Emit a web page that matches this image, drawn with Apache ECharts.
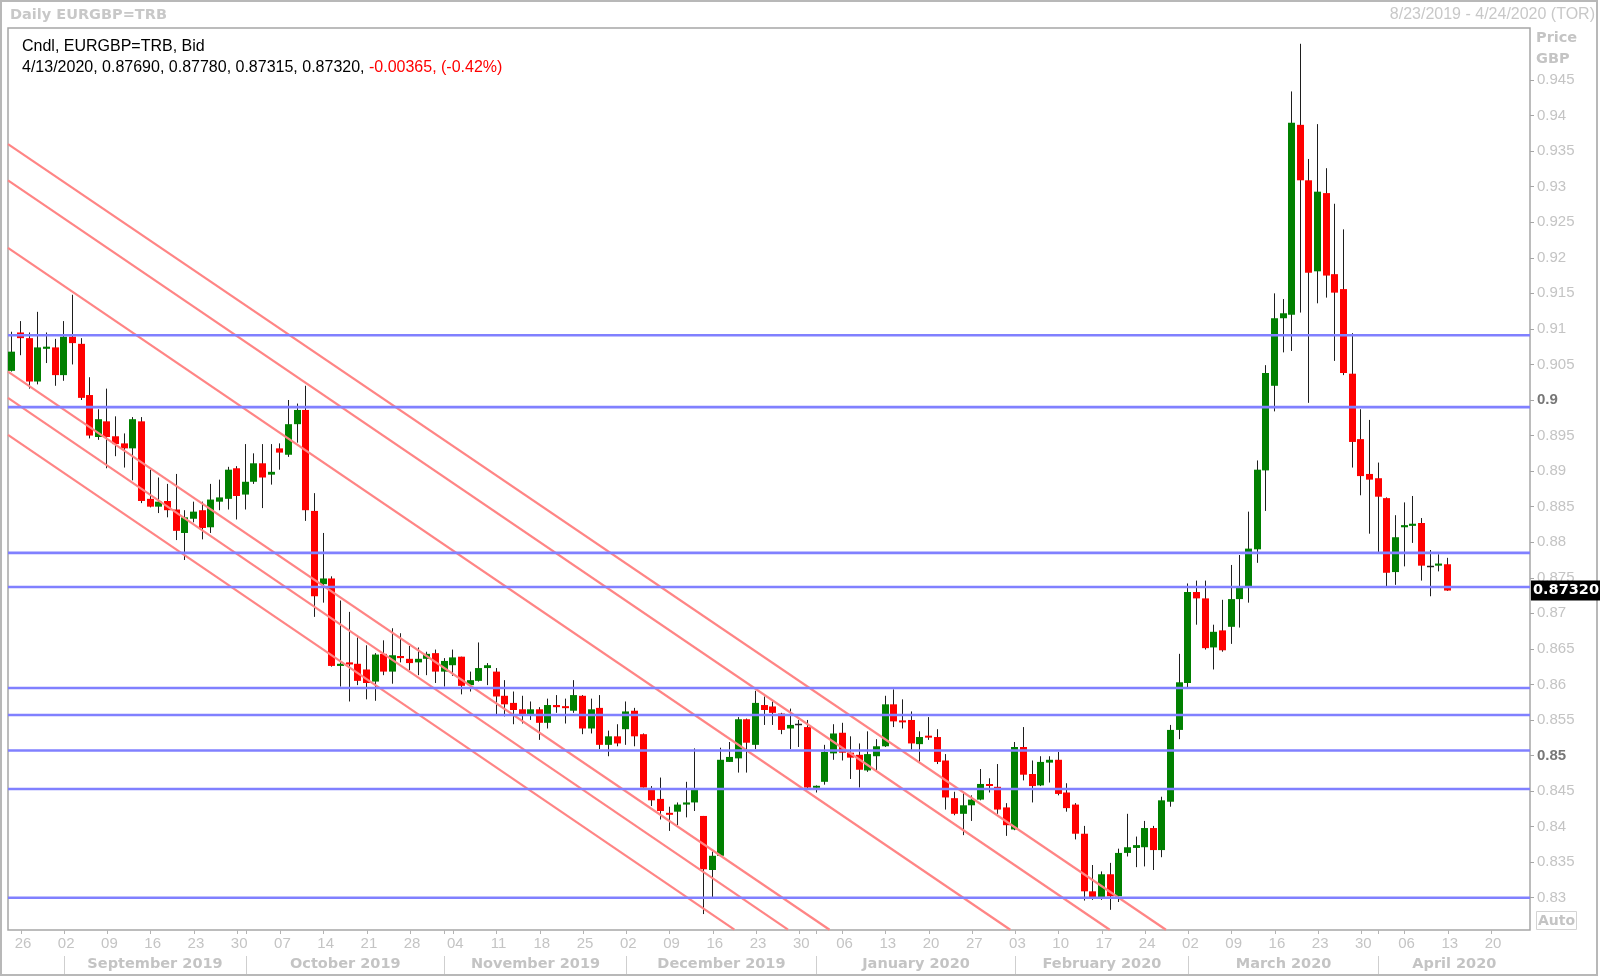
<!DOCTYPE html>
<html><head><meta charset="utf-8">
<script src="https://cdn.jsdelivr.net/npm/echarts@6/dist/echarts.min.js"></script>
<style>html,body{margin:0;padding:0;background:#fff}#c{width:1600px;height:978px}</style>
</head><body><div id="c"></div>
<script>
// ---------- DATA ----------
const START_DATE = '2019-08-23';
const END_DATE = '2020-04-24';
const MONTHS = ['January','February','March','April','May','June','July','August','September','October','November','December'];

const open = [
0.9041,0.9095,0.9087,0.9026,0.9072,0.9074,0.9035,0.9089,0.9079,0.9007,
0.8948,0.8970,0.8949,0.8939,0.8932,0.8970,0.8861,0.8850,0.8858,0.8846,
0.8813,0.8833,0.8845,0.8821,0.8857,0.8861,0.8904,0.8867,0.8885,0.8911,
0.8895,0.8932,0.8923,0.8966,0.8986,0.8844,0.8741,0.8749,0.8626,0.8631,
0.8629,0.8621,0.8604,0.8643,0.8618,0.8640,0.8636,0.8631,0.8636,0.8644,
0.8618,0.8627,0.8639,0.8599,0.8605,0.8623,0.8618,0.8584,0.8574,0.8565,
0.8558,0.8565,0.8546,0.8571,0.8569,0.8563,0.8584,0.8538,0.8567,0.8515,
0.8527,0.8537,0.8563,0.8530,0.8452,0.8439,0.8419,0.8421,0.8431,0.8434,
0.8415,0.8339,0.8359,0.8491,0.8496,0.8551,0.8515,0.8571,0.8569,0.8559,
0.8538,0.8544,0.8540,0.8455,0.8463,0.8503,0.8532,0.8504,0.8501,0.8479,
0.8499,0.8513,0.8572,0.8549,0.8550,0.8516,0.8527,0.8526,0.8493,0.8440,
0.8418,0.8430,0.8438,0.8459,0.8456,0.8427,0.8396,0.8512,0.8474,0.8458,
0.8490,0.8494,0.8448,0.8431,0.8390,0.8309,0.8301,0.8333,0.8302,0.8363,
0.8370,0.8371,0.8398,0.8367,0.8435,0.8536,0.8602,0.8730,0.8721,0.8652,
0.8676,0.8681,0.8720,0.8738,0.8790,0.8901,0.9020,0.9115,0.9120,0.9387,
0.9309,0.9181,0.9291,0.9177,0.9156,0.9037,0.8945,0.8896,0.8890,0.8862,
0.8758,0.8821,0.8823,0.8827,0.8767,0.8767,0.8769
];
const close = [
0.9068,0.9087,0.9026,0.9074,0.9075,0.9035,0.9089,0.9080,0.9003,0.8950,
0.8973,0.8948,0.8938,0.8932,0.8973,0.8858,0.8850,0.8857,0.8845,0.8816,
0.8835,0.8843,0.8820,0.8860,0.8863,0.8902,0.8865,0.8885,0.8911,0.8891,
0.8899,0.8926,0.8966,0.8986,0.8845,0.8724,0.8749,0.8626,0.8629,0.8628,
0.8605,0.8602,0.8642,0.8618,0.8641,0.8637,0.8630,0.8636,0.8643,0.8618,
0.8633,0.8638,0.8598,0.8606,0.8623,0.8627,0.8583,0.8572,0.8564,0.8558,
0.8565,0.8546,0.8571,0.8568,0.8567,0.8585,0.8538,0.8565,0.8515,0.8527,
0.8517,0.8562,0.8527,0.8455,0.8437,0.8422,0.8417,0.8431,0.8434,0.8452,
0.8340,0.8359,0.8494,0.8498,0.8551,0.8518,0.8574,0.8564,0.8560,0.8536,
0.8543,0.8544,0.8455,0.8457,0.8505,0.8531,0.8504,0.8497,0.8480,0.8502,
0.8513,0.8572,0.8548,0.8547,0.8517,0.8526,0.8526,0.8491,0.8441,0.8418,
0.8430,0.8438,0.8460,0.8458,0.8424,0.8402,0.8512,0.8473,0.8457,0.8491,
0.8494,0.8446,0.8426,0.8390,0.8309,0.8301,0.8333,0.8302,0.8363,0.8371,
0.8374,0.8398,0.8367,0.8437,0.8536,0.8603,0.8730,0.8721,0.8651,0.8674,
0.8648,0.8720,0.8737,0.8791,0.8902,0.9038,0.9115,0.9122,0.9390,0.9309,
0.9179,0.9293,0.9175,0.9151,0.9038,0.8941,0.8893,0.8888,0.8864,0.8757,
0.8807,0.8824,0.8826,0.8767,0.8767,0.8770,0.8732
];
const low = [
0.9040,0.9063,0.9016,0.9022,0.9052,0.9020,0.9027,0.9050,0.9000,0.8946,
0.8944,0.8904,0.8921,0.8905,0.8887,0.8855,0.8849,0.8841,0.8835,0.8803,
0.8775,0.8828,0.8804,0.8813,0.8845,0.8846,0.8832,0.8846,0.8882,0.8848,
0.8881,0.8902,0.8920,0.8940,0.8830,0.8695,0.8715,0.8625,0.8597,0.8576,
0.8599,0.8579,0.8577,0.8613,0.8601,0.8631,0.8620,0.8613,0.8613,0.8602,
0.8597,0.8612,0.8586,0.8590,0.8604,0.8599,0.8558,0.8555,0.8544,0.8545,
0.8550,0.8522,0.8538,0.8560,0.8545,0.8560,0.8530,0.8531,0.8509,0.8499,
0.8513,0.8515,0.8513,0.8455,0.8429,0.8410,0.8394,0.8402,0.8413,0.8422,
0.8277,0.8301,0.8358,0.8491,0.8476,0.8476,0.8509,0.8543,0.8543,0.8530,
0.8509,0.8512,0.8454,0.8448,0.8459,0.8494,0.8493,0.8467,0.8455,0.8477,
0.8479,0.8512,0.8540,0.8538,0.8508,0.8491,0.8522,0.8488,0.8424,0.8416,
0.8388,0.8408,0.8437,0.8448,0.8418,0.8387,0.8395,0.8465,0.8434,0.8457,
0.8462,0.8444,0.8421,0.8382,0.8296,0.8297,0.8297,0.8283,0.8294,0.8358,
0.8343,0.8344,0.8339,0.8357,0.8428,0.8523,0.8596,0.8684,0.8649,0.8621,
0.8646,0.8657,0.8680,0.8715,0.8771,0.8844,0.8984,0.9067,0.9069,0.9123,
0.8996,0.9136,0.9144,0.9055,0.9035,0.8905,0.8866,0.8812,0.8785,0.8738,
0.8740,0.8766,0.8799,0.8746,0.8724,0.8759,0.87315
];
const high = [
0.9096,0.9111,0.9095,0.9124,0.9095,0.9086,0.9111,0.9148,0.9087,0.9032,
0.8987,0.9016,0.8977,0.8953,0.8976,0.8976,0.8902,0.8891,0.8882,0.8896,
0.8845,0.8857,0.8857,0.8882,0.8888,0.8906,0.8907,0.8938,0.8925,0.8938,
0.8938,0.8939,0.9000,0.8995,0.9020,0.8869,0.8813,0.8752,0.8718,0.8702,
0.8666,0.8655,0.8644,0.8662,0.8679,0.8672,0.8654,0.8652,0.8646,0.8649,
0.8637,0.8649,0.8639,0.8618,0.8659,0.8630,0.8623,0.8606,0.8590,0.8584,
0.8576,0.8568,0.8580,0.8585,0.8580,0.8606,0.8585,0.8580,0.8585,0.8535,
0.8544,0.8576,0.8567,0.8531,0.8457,0.8469,0.8428,0.8434,0.8463,0.8510,
0.8415,0.8365,0.8511,0.8519,0.8554,0.8552,0.8591,0.8583,0.8576,0.8560,
0.8566,0.8550,0.8550,0.8458,0.8515,0.8544,0.8546,0.8527,0.8517,0.8534,
0.8523,0.8584,0.8593,0.8579,0.8562,0.8534,0.8554,0.8537,0.8502,0.8449,
0.8447,0.8444,0.8481,0.8468,0.8488,0.8433,0.8519,0.8540,0.8493,0.8499,
0.8499,0.8505,0.8461,0.8433,0.8401,0.8346,0.8337,0.8349,0.8369,0.8418,
0.8386,0.8408,0.8401,0.8442,0.8543,0.8643,0.8742,0.8746,0.8746,0.8684,
0.8719,0.8768,0.8782,0.8843,0.8915,0.9049,0.9150,0.9142,0.9434,0.9501,
0.9339,0.9388,0.9326,0.9276,0.9240,0.9094,0.8987,0.8972,0.8912,0.8863,
0.8838,0.8856,0.8865,0.8834,0.8789,0.8783,0.8778
];

const yTicks = [0.83,0.835,0.84,0.845,0.85,0.855,0.86,0.865,0.87,0.875,0.88,0.885,0.89,0.895,0.9,0.905,0.91,0.915,0.92,0.925,0.93,0.935,0.94,0.945];
const boldTicks = [0.85, 0.9];
const levels = [0.9091, 0.8990, 0.8785, 0.8737, 0.8595, 0.8557, 0.8507, 0.8453, 0.8300];
// channel lines: [x0 (slot), y0, x1 (slot), y1]
const channels = [
  [-0.5, 0.9360, 133.4, 0.8255],
  [-0.5, 0.9309, 126.9, 0.8255],
  [-0.5, 0.9214, 115.4, 0.8255],
  [-0.5, 0.9040, 94.5, 0.8255],
  [-0.5, 0.9003, 89.7, 0.8255],
  [-0.5, 0.8951, 83.5, 0.8255]
];
const infoLine1 = 'Cndl, EURGBP=TRB, Bid';
const infoDate = '4/13/2020';
const infoChange = '-0.00365, (-0.42%)';

// ---------- BUILD ----------
const dates = [];
for (let d = new Date(START_DATE + 'T00:00:00Z'); d <= new Date(END_DATE + 'T00:00:00Z'); d.setUTCDate(d.getUTCDate() + 1)) {
  const wd = d.getUTCDay();
  if (wd > 0 && wd < 6) dates.push(d.toISOString().slice(0, 10));
}
const N = dates.length;
const XMIN = -0.5, XMAX = N - 0.5;
const isMon = dates.map(d => new Date(d + 'T00:00:00Z').getUTCDay() === 1);
const monthStarts = [];
for (let i = 1; i < N; i++) if (dates[i].slice(5, 7) !== dates[i - 1].slice(5, 7)) monthStarts.push(i);
const isMStart = dates.map((d, i) => monthStarts.indexOf(i) >= 0);
const bounds = monthStarts.concat([XMAX]);
const monthMids = [], monthText = {};
for (let k = 0; k < monthStarts.length; k++) {
  const m = (monthStarts[k] + bounds[k + 1]) / 2;
  monthMids.push(m);
  const d = dates[monthStarts[k]];
  monthText[m] = MONTHS[+d.slice(5, 7) - 1] + ' ' + d.slice(0, 4);
}
const candleData = open.map((o, i) => [i, o, close[i], low[i], high[i]]);
const last = candleData[candleData.length - 1];
const infoLine2 = infoDate + ', ' + [last[1], last[4], last[3], last[2]].map(v => v.toFixed(5)).join(', ') + ', ';

const REG = 'Liberation Sans', BOLD = 'DejaVu Sans';
const LIGHT = '#c4c4c4';

function renderCandle(params, api) {
  const i = api.value(0), o = api.value(1), c = api.value(2), l = api.value(3), h = api.value(4);
  const po = api.coord([i, o]), pc = api.coord([i, c]), pl = api.coord([i, l]), ph = api.coord([i, h]);
  const x = Math.round(po[0]) - 1;
  const children = [{
    type: 'line', shape: { x1: x + 0.5, y1: ph[1], x2: x + 0.5, y2: pl[1] },
    style: { stroke: '#1e1e1e', lineWidth: 1 }
  }];
  if (Math.abs(c - o) < 1e-9) {
    children.push({ type: 'line', shape: { x1: x - 3, y1: Math.round(po[1]) + 0.5, x2: x + 4, y2: Math.round(po[1]) + 0.5 },
      style: { stroke: '#222', lineWidth: 1.5 } });
  } else {
    let top = Math.min(po[1], pc[1]), bot = Math.max(po[1], pc[1]);
    if (bot - top < 2) { const m = (top + bot) / 2; top = m - 1; bot = m + 1; }
    children.push({ type: 'rect', shape: { x: x - 3, y: top, width: 7, height: bot - top },
      style: { fill: c > o ? '#008000' : '#ff0000' } });
  }
  return { type: 'group', children };
}

const series = [{
  type: 'custom', name: 'EURGBP', xAxisIndex: 0, yAxisIndex: 0,
  renderItem: renderCandle, data: candleData, encode: { x: 0, y: [1, 2, 3, 4] }, z: 2, silent: true
}];
channels.forEach(ch => series.push({
  type: 'line', xAxisIndex: 1, yAxisIndex: 0, symbol: 'none', silent: true, z: 3,
  data: [[ch[0], ch[1]], [ch[2], ch[3]]],
  lineStyle: { color: '#ff8585', width: 2.2 }
}));
levels.forEach(lv => series.push({
  type: 'line', xAxisIndex: 1, yAxisIndex: 0, symbol: 'none', silent: true, z: 4,
  data: [[XMIN, lv], [XMAX, lv]],
  lineStyle: { color: '#8080ff', width: 2.6 }
}));
series.push({
  type: 'line', xAxisIndex: 1, yAxisIndex: 0, symbol: 'none', silent: true, z: 10,
  data: [[XMIN, last[2]], [XMAX, last[2]]],
  lineStyle: { opacity: 0 },
  endLabel: { show: true, distance: 1, formatter: () => last[2].toFixed(5),
    backgroundColor: '#000', color: '#fff', fontFamily: BOLD, fontWeight: 'bold', fontSize: 14.5, padding: [3, 2, 2, 2] }
});

const option = {
  animation: false,
  backgroundColor: '#fff',
  grid: { left: 8, right: 70, top: 28, bottom: 48, show: true, borderColor: '#a6a6a6', borderWidth: 1.5, containLabel: false },
  xAxis: [{
    type: 'category', data: dates, boundaryGap: true, gridIndex: 0,
    axisLine: { show: false, onZero: false },
    axisTick: { show: true, alignWithLabel: true, length: 4, interval: (i) => isMon[i] || isMStart[i], lineStyle: { color: '#b4b4b4' } },
    axisLabel: { interval: (i) => isMon[i], formatter: v => v.slice(8, 10), color: LIGHT, fontFamily: REG, fontSize: 15, margin: 6, padding: [0, 0, 0, 4] },
    splitLine: { show: false }
  }, {
    type: 'value', min: XMIN, max: XMAX, gridIndex: 0, show: false, axisLine: { onZero: false }
  }, {
    type: 'value', min: XMIN, max: XMAX, gridIndex: 0, position: 'bottom', offset: 26,
    axisLine: { show: false, onZero: false }, splitLine: { show: false },
    axisTick: { show: true, customValues: monthStarts, length: 18, lineStyle: { color: '#cfcfcf' } },
    axisLabel: { customValues: monthMids, formatter: v => monthText[v] || '', color: LIGHT, fontFamily: BOLD, fontWeight: 'bold', fontSize: 14.5, margin: 1 }
  }],
  yAxis: [{
    type: 'value', position: 'right', min: 0.82546, max: 0.95232, scale: true,
    axisLine: { show: false, onZero: false }, splitLine: { show: false },
    axisTick: { show: true, customValues: yTicks, length: 4, lineStyle: { color: '#a6a6a6' } },
    axisLabel: {
      customValues: yTicks, margin: 7,
      formatter: v => { const r = +(+v).toFixed(3); const s = String(r); return boldTicks.indexOf(r) >= 0 ? '{b|' + s + '}' : '{n|' + s + '}'; },
      rich: {
        n: { color: LIGHT, fontFamily: REG, fontSize: 15 },
        b: { color: '#777', fontFamily: REG, fontSize: 15, fontWeight: 'bold' }
      }
    }
  }],
  series,
  graphic: [
    { type: 'rect', shape: { x: 1, y: 1, width: 1596, height: 974 }, style: { fill: null, stroke: '#b8b8b8', lineWidth: 2 }, silent: true },
    { type: 'text', x: 10, y: 15, style: { text: 'Daily EURGBP=TRB', fill: '#c8c8c8', font: 'bold 14.5px "DejaVu Sans"', verticalAlign: 'middle' } },
    { type: 'text', x: 1595, y: 15, style: { text: '8/23/2019 - 4/24/2020 (TOR)', fill: '#c8c8c8', font: '16px "Liberation Sans"', align: 'right', verticalAlign: 'middle' } },
    { type: 'text', x: 22, y: 47, style: { text: infoLine1, fill: '#000', font: '16px "Liberation Sans"', verticalAlign: 'middle' } },
    { type: 'text', x: 22, y: 68, style: {
        text: '{k|' + infoLine2 + '}{r|' + infoChange + '}', verticalAlign: 'middle',
        rich: { k: { fill: '#000', fontFamily: REG, fontSize: 16 }, r: { fill: '#ff0000', fontFamily: REG, fontSize: 16 } } } },
    { type: 'text', x: 1536, y: 38, style: { text: 'Price', fill: '#c4c4c4', font: 'bold 14.5px "DejaVu Sans"', verticalAlign: 'middle' } },
    { type: 'text', x: 1536, y: 59, style: { text: 'GBP', fill: '#c4c4c4', font: 'bold 14.5px "DejaVu Sans"', verticalAlign: 'middle' } },
    { type: 'rect', shape: { x: 1536.5, y: 911.5, width: 40, height: 18 }, style: { fill: '#fff', stroke: '#d4d4d4', lineWidth: 1 } },
    { type: 'text', x: 1556.5, y: 921, style: { text: 'Auto', fill: '#c4c4c4', font: 'bold 14px "DejaVu Sans"', align: 'center', verticalAlign: 'middle' } }
  ]
};

const chart = echarts.init(document.getElementById('c'));
chart.setOption(option);
</script>
</body></html>
